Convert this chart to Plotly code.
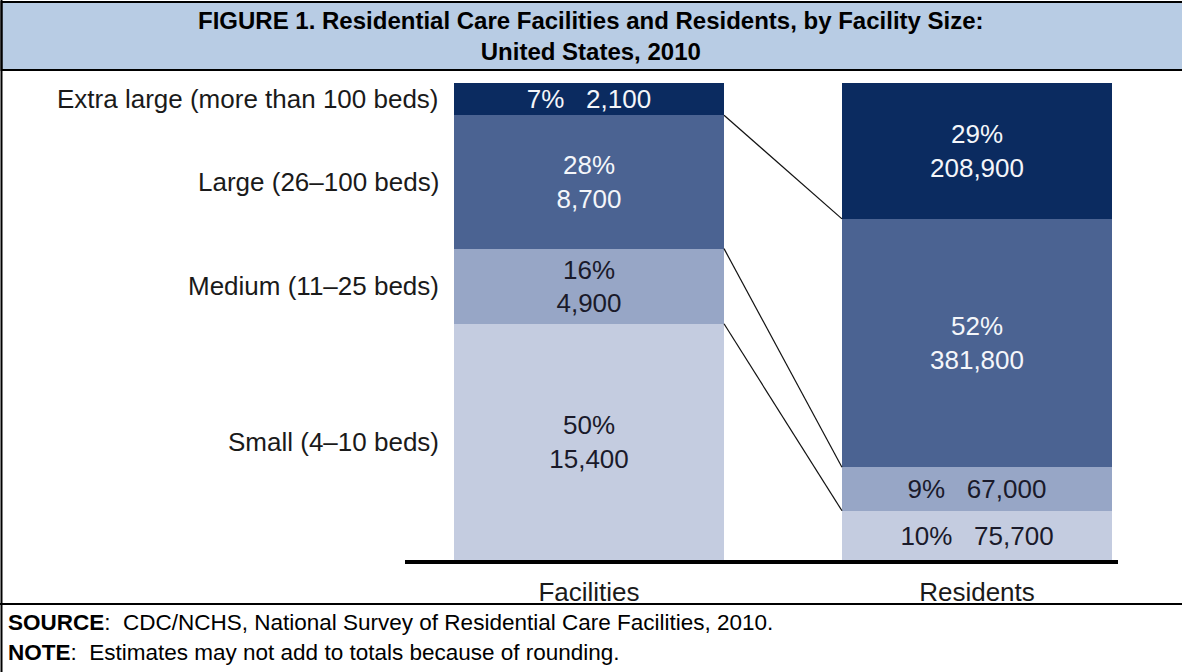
import numpy as np
import plotly.graph_objects as go

# ---------------- data ----------------
categories = ["Facilities", "Residents"]
size_labels = ["Small (4–10 beds)", "Medium (11–25 beds)",
               "Large (26–100 beds)", "Extra large (more than 100 beds)"]
facilities = [15400, 4900, 8700, 2100]
residents = [75700, 67000, 381800, 208900]
facilities_pct = [50, 16, 28, 7]
residents_pct = [10, 9, 52, 29]
colors = ["#c4cce0", "#97a6c6", "#4b6392", "#0b2b60"]
text_colors = ["#1a1a2a", "#1a1a2a", "#f4f6fa", "#f4f6fa"]

FONT = "Arial, 'Liberation Sans', sans-serif"
W, H = 1182, 672
BAR_W = 0.696
BODY = 26

fac_share = np.array(facilities) / np.sum(facilities) * 100
res_share = np.array(residents) / np.sum(residents) * 100
fac_cum = np.cumsum(fac_share)
res_cum = np.cumsum(res_share)

fig = go.Figure()

def fmt(p, v, one_line):
    sep = "   " if one_line else "<br>"
    return f"{p}%{sep}{v:,}"

for i in range(4):
    one_line_f = i == 3
    one_line_r = i in (0, 1)
    fig.add_trace(go.Bar(
        x=[0, 1],
        y=[fac_share[i], res_share[i]],
        width=BAR_W,
        marker=dict(color=colors[i], line=dict(width=0)),
        text=[fmt(facilities_pct[i], facilities[i], one_line_f),
              fmt(residents_pct[i], residents[i], one_line_r)],
        textposition="inside",
        insidetextanchor="middle",
        textangle=0,
        textfont=dict(family=FONT, size=BODY, color=text_colors[i]),
        hoverinfo="skip",
        showlegend=False,
    ))

# connector lines between segment boundaries
for i in range(3):
    fig.add_trace(go.Scatter(
        x=[BAR_W / 2, 1 - BAR_W / 2],
        y=[fac_cum[i], res_cum[i]],
        mode="lines",
        line=dict(color="#111111", width=1.2),
        hoverinfo="skip",
        showlegend=False,
    ))

# category labels on left, at facility segment midpoints
annotations = []
fac_mid = fac_cum - fac_share / 2
for i in range(4):
    annotations.append(dict(
        x=-BAR_W / 2, y=fac_mid[i], xref="x", yref="y",
        text=size_labels[i], showarrow=False, xanchor="right", yanchor="middle",
        xshift=-13, font=dict(family=FONT, size=BODY, color="#1a1a1a"),
    ))

# title
annotations.append(dict(
    x=0.5, y=1 - 36 / H, xref="paper", yref="paper",
    text="<b>FIGURE 1. Residential Care Facilities and Residents, by Facility Size:<br>United States, 2010</b>",
    showarrow=False, xanchor="center", yanchor="middle",
    font=dict(family=FONT, size=24, color="#000000"),
))
# footer
annotations.append(dict(
    x=6 / W, y=1 - 622 / H, xref="paper", yref="paper",
    text="<b>SOURCE</b>:  CDC/NCHS, National Survey of Residential Care Facilities, 2010.",
    showarrow=False, xanchor="left", yanchor="middle",
    font=dict(family=FONT, size=22.5, color="#000000"),
))
annotations.append(dict(
    x=6 / W, y=1 - 652 / H, xref="paper", yref="paper",
    text="<b>NOTE</b>:  Estimates may not add to totals because of rounding.",
    showarrow=False, xanchor="left", yanchor="middle",
    font=dict(family=FONT, size=22.5, color="#000000"),
))

shapes = [
    # title box
    dict(type="rect", xref="paper", yref="paper",
         x0=1.5 / W, x1=1.02, y0=1 - 70 / H, y1=1 - 2 / H,
         fillcolor="#b8cce4", line=dict(color="#000000", width=2), layer="below"),
    # outer left border
    dict(type="line", xref="paper", yref="paper",
         x0=1.5 / W, x1=1.5 / W, y0=0, y1=1, line=dict(color="#000000", width=2)),
    # footer separator
    dict(type="line", xref="paper", yref="paper",
         x0=0, x1=1, y0=1 - 604 / H, y1=1 - 604 / H, line=dict(color="#000000", width=2)),
]

fig.update_layout(
    width=W, height=H,
    margin=dict(l=0, r=0, t=0, b=0),
    paper_bgcolor="#ffffff", plot_bgcolor="#ffffff",
    barmode="stack", bargap=0,
    uniformtext=dict(minsize=BODY, mode="show"),
    annotations=annotations,
    shapes=shapes,
    xaxis=dict(
        domain=[405 / W, 1118 / W],
        range=[-0.4742, 1.3634],
        tickmode="array", tickvals=[0, 1], ticktext=categories,
        ticks="outside", ticklen=6, tickcolor="rgba(0,0,0,0)",
        tickfont=dict(family=FONT, size=BODY, color="#1a1a1a"),
        showline=True, linecolor="#000000", linewidth=4,
        showgrid=False, zeroline=False, fixedrange=True,
    ),
    yaxis=dict(
        domain=[(H - 560) / H, (H - 83) / H],
        range=[0, 100],
        showticklabels=False, showgrid=False, zeroline=False, showline=False,
        fixedrange=True,
    ),
)

fig.write_html("out.html")
